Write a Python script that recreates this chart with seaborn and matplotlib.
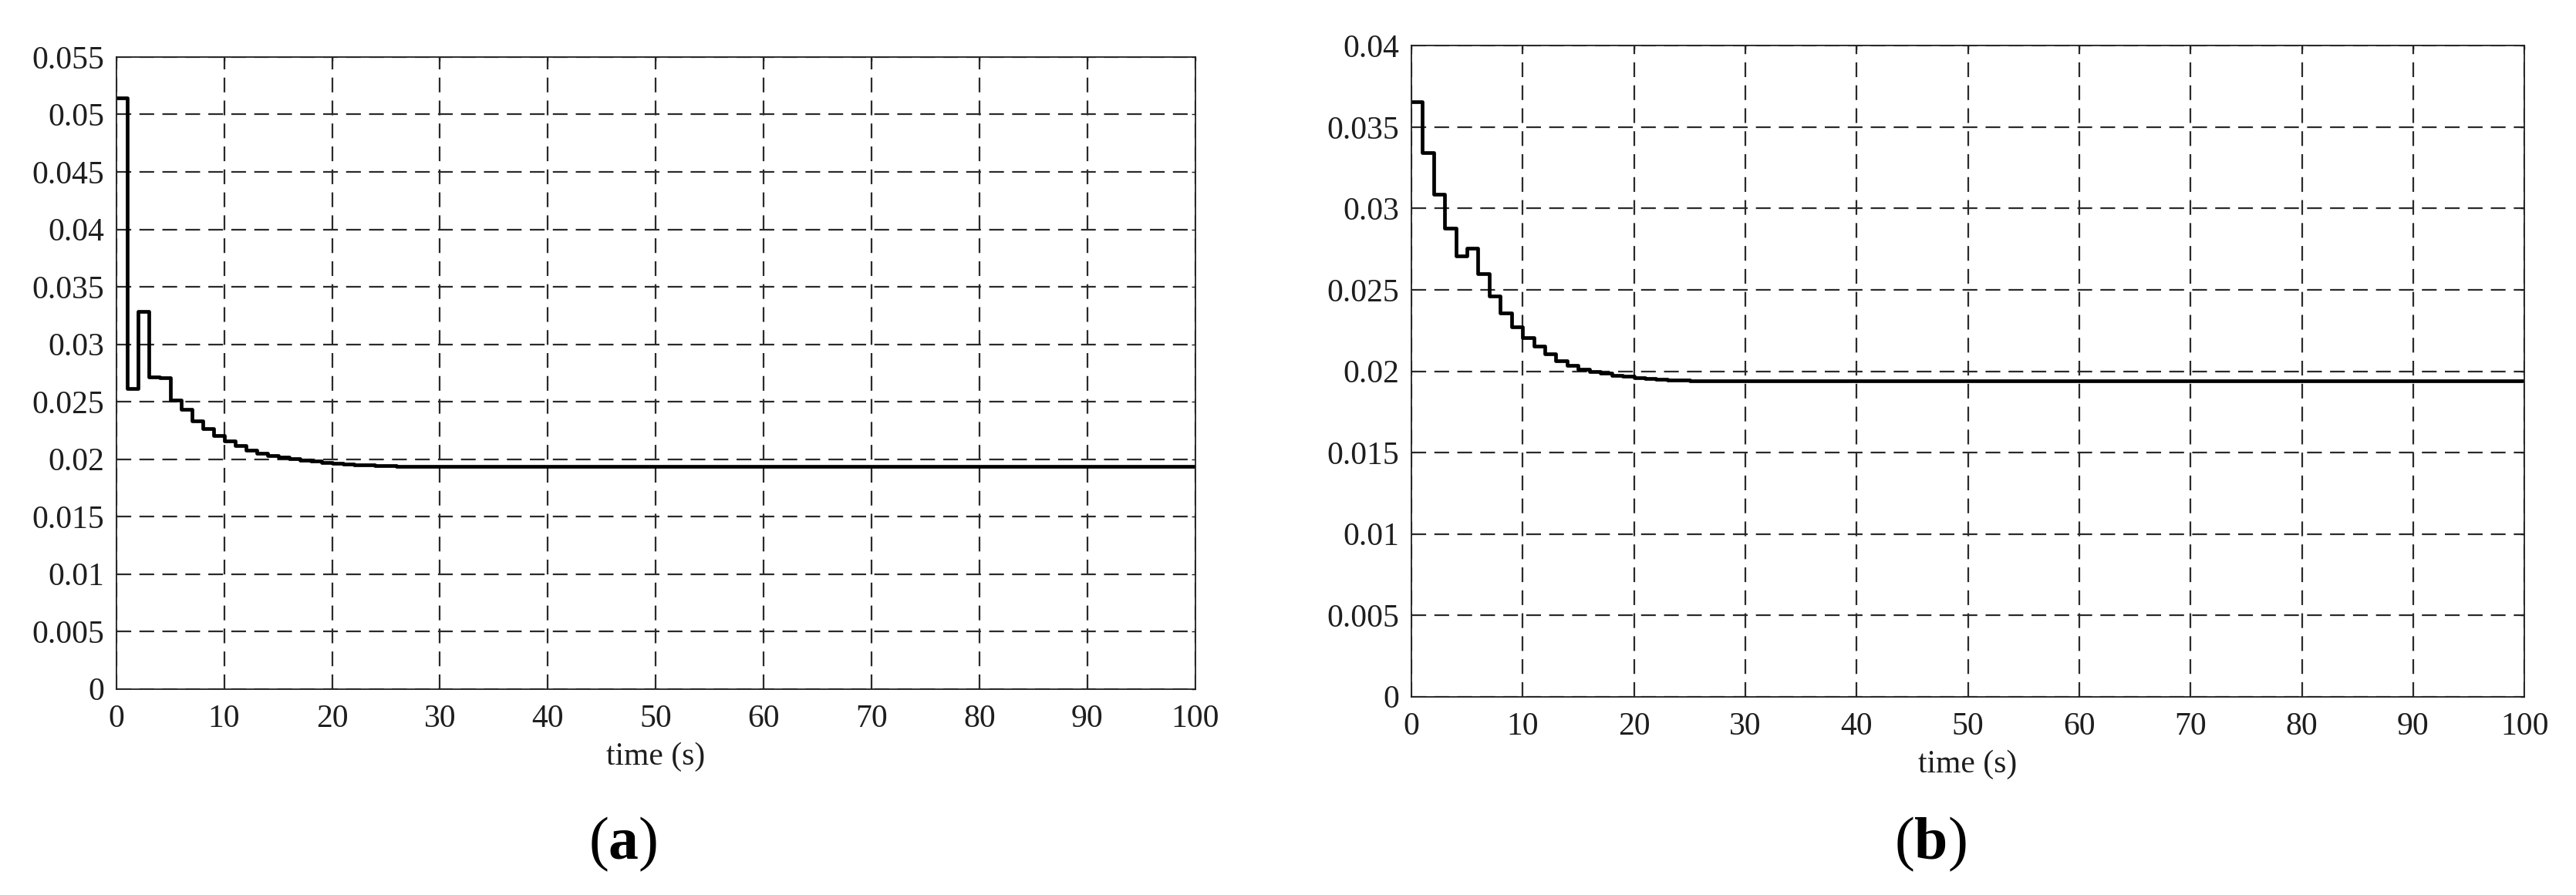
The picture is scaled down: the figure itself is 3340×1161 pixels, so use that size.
import matplotlib
matplotlib.use("Agg")
import matplotlib.pyplot as plt
import seaborn as sns
import pandas as pd

# ---------------- data ----------------
time_a = [0, 1, 2, 3, 4, 5, 6, 7, 8, 9, 10, 11, 12, 13, 14, 15, 16, 17, 18, 19, 20,
          21, 22, 23, 24, 25, 26, 27, 28, 29, 30, 100]
value_a = [0.05145, 0.02613, 0.03284, 0.02718, 0.02712, 0.02515, 0.02434, 0.02333,
           0.02264, 0.02204, 0.02157, 0.02116, 0.02081, 0.02052, 0.02031, 0.02018,
           0.02005, 0.01991, 0.01982, 0.01973, 0.01964, 0.01957, 0.01952, 0.01948,
           0.01945, 0.01942, 0.01940, 0.01938, 0.01937, 0.01936, 0.01935, 0.01935]

time_b = [0, 1, 2, 3, 4, 5, 6, 7, 8, 9, 10, 11, 12, 13, 14, 15, 16, 17, 18, 19, 20,
          21, 22, 23, 24, 25, 26, 27, 28, 29, 30, 100]
value_b = [0.03657, 0.03345, 0.03087, 0.02878, 0.02707, 0.02758, 0.02597, 0.02461,
           0.02356, 0.02271, 0.02208, 0.02152, 0.02105, 0.02065, 0.02037, 0.02014,
           0.01998, 0.01986, 0.01975, 0.01967, 0.01960, 0.01954, 0.01950, 0.01947,
           0.01945, 0.01943, 0.01942, 0.01941, 0.01940, 0.01940, 0.01940, 0.01940]

xticks = [0, 10, 20, 30, 40, 50, 60, 70, 80, 90, 100]
xtick_labels = ["0", "10", "20", "30", "40", "50", "60", "70", "80", "90", "100"]

yticks_a = [0, 0.005, 0.01, 0.015, 0.02, 0.025, 0.03, 0.035, 0.04, 0.045, 0.05, 0.055]
ytick_labels_a = ["0", "0.005", "0.01", "0.015", "0.02", "0.025", "0.03", "0.035",
                  "0.04", "0.045", "0.05", "0.055"]
yticks_b = [0, 0.005, 0.01, 0.015, 0.02, 0.025, 0.03, 0.035, 0.04]
ytick_labels_b = ["0", "0.005", "0.01", "0.015", "0.02", "0.025", "0.03", "0.035", "0.04"]

xlabel_text = "time (s)"
panel_labels = ["a", "b"]

# ---------------- style ----------------
sns.set_style("white")
plt.rcParams["font.family"] = ["Liberation Serif", "DejaVu Serif"]
plt.rcParams["mathtext.fontset"] = "custom"
plt.rcParams["mathtext.rm"] = "Liberation Serif"
plt.rcParams["mathtext.bf"] = "Liberation Serif:bold"

TXT = "#1e1e1e"
GRID = "#2a2a2a"

fig = plt.figure(figsize=(33.41, 11.61), dpi=100)
ax_a = fig.add_axes([0.0451, 0.2302, 0.4188, 0.7061])
ax_b = fig.add_axes([0.5477, 0.2216, 0.4320, 0.7273])


def draw(ax, t, v, yticks, ylabels, ymax):
    df = pd.DataFrame({"t": t, "v": v})
    ax.set_axisbelow(True)
    ax.grid(True, color=GRID, linestyle=(0, (8.6, 4.8)), linewidth=1.6)
    sns.lineplot(data=df, x="t", y="v", ax=ax, drawstyle="steps-post",
                 color="black", linewidth=3.4, estimator=None, sort=False)
    ax.set_xlim(0, 100)
    ax.set_ylim(0, ymax)
    ax.set_xticks(xticks)
    ax.set_xticklabels(xtick_labels)
    ax.set_yticks(yticks)
    ax.set_yticklabels(ylabels)
    ax.tick_params(axis="both", which="major", direction="in", length=3.5, width=1.0,
                   colors=TXT, labelsize=30, top=True, right=True)
    ax.tick_params(axis="x", pad=14)
    ax.tick_params(axis="y", pad=11)
    for s in ax.spines.values():
        s.set_visible(True)
        s.set_color(TXT)
        s.set_linewidth(1.3)
    ax.set_xlabel(xlabel_text, fontsize=30, color=TXT, labelpad=8)
    ax.set_ylabel("")


draw(ax_a, time_a, value_a, yticks_a, ytick_labels_a, 0.055)
draw(ax_b, time_b, value_b, yticks_b, ytick_labels_b, 0.04)

fig.text(808 / 3341, 1 - 1095 / 1161, "($\\mathbf{%s}$)" % panel_labels[0],
         fontsize=56, color="black", ha="center", va="center")
fig.text(2503 / 3341, 1 - 1095 / 1161, "($\\mathbf{%s}$)" % panel_labels[1],
         fontsize=56, color="black", ha="center", va="center")

fig.savefig("out.png", dpi=100, facecolor="white")
